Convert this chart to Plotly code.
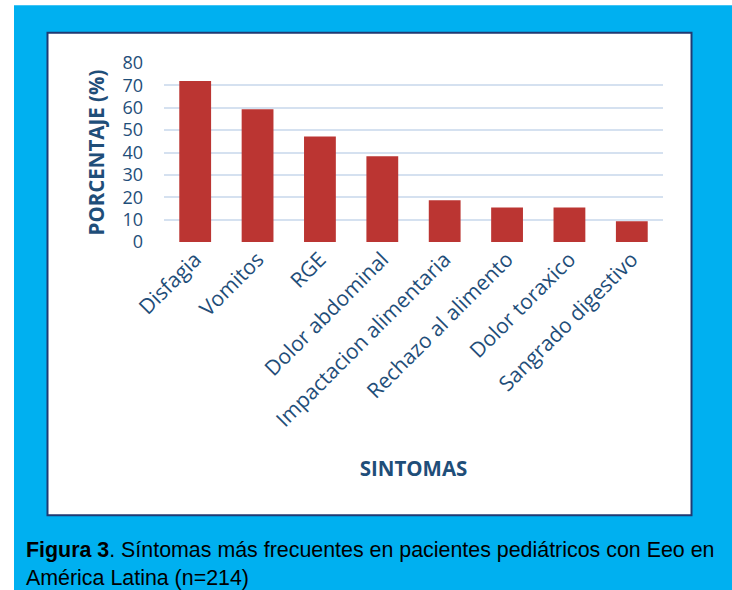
import plotly.graph_objects as go

categories = ["Disfagia", "Vomitos", "RGE", "Dolor abdominal", "Impactacion alimentaria",
              "Rechazo al alimento", "Dolor toraxico", "Sangrado digestivo"]
values = [72.0, 59.3, 47.2, 38.3, 18.7, 15.4, 15.4, 9.3]
y_ticks = [0, 10, 20, 30, 40, 50, 60, 70, 80]

W, H = 732, 590
L, R, T, B = 164, 663, 62.7, 241.7
pw, ph = R - L, B - T

def px(x):
    return (x - L) / pw

def py(y):
    return (B - y) / ph

navy = "#1f4e79"

fig = go.Figure(go.Bar(
    x=categories, y=values,
    marker=dict(color="#bb3532", line=dict(width=0)),
    hoverinfo="x+y",
))

fig.update_layout(
    width=W, height=H,
    margin=dict(l=L, r=W - R, t=T, b=H - B, pad=0),
    paper_bgcolor="white",
    plot_bgcolor="rgba(0,0,0,0)",
    bargap=0.49,
    showlegend=False,
    font=dict(family="Open Sans", color=navy),
    xaxis=dict(
        tickangle=-45, tickfont=dict(size=21, color=navy, family="Open Sans"),
        showgrid=False, zeroline=False, showline=False, ticks="",
        title=dict(text="<b>SINTOMAS</b>", font=dict(size=20.5, color=navy, family="Open Sans"), standoff=30),
        automargin=False,
    ),
    yaxis=dict(
        range=[0, 80], tickvals=y_ticks, tickfont=dict(size=18, color=navy, family="Open Sans"),
        showgrid=True, gridcolor="#d5e1f0", gridwidth=2, zeroline=False, showline=False,
        ticks="", ticklabelstandoff=20,
        title=dict(text="<b>PORCENTAJE (%)</b>", font=dict(size=20.5, color=navy, family="Open Sans"), standoff=12),
        automargin=False,
    ),
    shapes=[
        dict(type="rect", xref="paper", yref="paper", layer="below",
             x0=px(14), x1=px(W), y0=py(H), y1=py(5),
             fillcolor="#00b0f0", line=dict(width=0)),
        dict(type="rect", xref="paper", yref="paper", layer="below",
             x0=px(47.5), x1=px(691.5), y0=py(515), y1=py(32.5),
             fillcolor="white", line=dict(color="#1f3a73", width=2)),
    ],
    annotations=[
        dict(xref="paper", yref="paper", x=px(24), y=py(536), xanchor="left", yanchor="top",
             align="left", showarrow=False,
             text="<b>Figura 3</b>. Síntomas más frecuentes en pacientes pediátricos con Eeo en<br>América Latina (n=214)",
             font=dict(family="Liberation Sans, Arial", size=21.4, color="black")),
    ],
)

fig.write_html("out.html", config={"displayModeBar": False},
               post_script="document.body.style.margin='0';document.body.style.padding='0';")
